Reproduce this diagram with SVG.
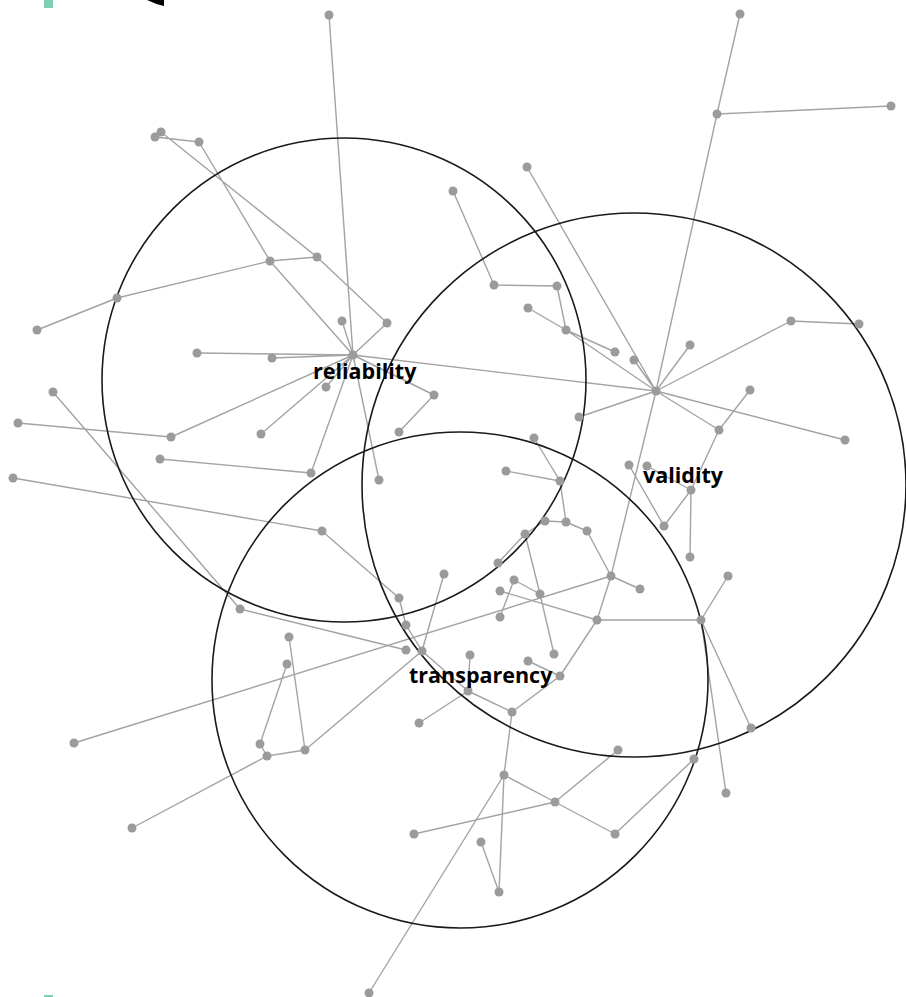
<svg xmlns="http://www.w3.org/2000/svg" width="906" height="997" viewBox="0 0 906 997">
<style>
.e{stroke:#a3a3a3;stroke-width:1.4;fill:none}
.c{stroke:#1a1a1a;stroke-width:1.6;fill:none}
.n circle{fill:#9b9b9b}
.l{font-family:"Open Sans","DejaVu Sans",sans-serif;font-weight:700;font-size:21.5px;fill:#000}
</style>
<rect width="906" height="997" fill="#fff"/>
<rect x="44" y="0" width="9" height="8" fill="#7fcfb2"/>
<path d="M147,0 L164,0 L164,6 Q155,4 147,0 Z" fill="#000"/>
<rect x="44" y="995" width="9" height="2" fill="#7fcfb2"/>
<g id="connectors">
<path class="e" d="M329,15L353,355 M161,132L317,257 M155,137L199,142 M199,142L270,261 M270,261L353,355 M270,261L317,257 M270,261L117,298 M117,298L37,330 M317,257L387,323 M387,323L353,355 M342,321L353,355 M197,353L353,355 M272,358L353,355 M326,387L353,355 M53,392L240,609 M18,423L171,437 M171,437L353,355 M261,434L353,355 M160,459L311,473 M311,473L353,355 M13,478L322,531 M379,480L353,355 M434,395L353,355 M434,395L399,432 M353,355L656,391"/>
<path class="e" d="M453,191L494,285 M494,285L557,286 M557,286L566,330 M528,308L566,330 M566,330L615,352 M566,330L656,391 M527,167L656,391 M740,14L717,114 M717,114L891,106 M717,114L656,391 M634,360L656,391 M690,345L656,391 M791,321L656,391 M791,321L859,324 M579,417L656,391 M750,390L719,430 M719,430L656,391 M845,440L656,391 M719,430L691,490 M629,465L664,526 M664,526L691,490 M647,466L691,490 M691,490L690,557 M656,391L611,576 M611,576L597,620 M611,576L640,589 M74,743L611,576 M587,531L611,576"/>
<path class="e" d="M534,438L560,481 M506,471L560,481 M560,481L566,522 M545,521L566,522 M566,522L587,531 M525,534L545,521 M498,563L525,534 M525,534L540,594 M540,594L554,654 M514,580L500,617 M514,580L540,594 M500,591L597,620 M597,620L701,620 M701,620L728,576 M701,620L751,728 M701,620L726,793 M597,620L560,676 M528,661L560,676 M560,676L512,712 M512,712L504,775 M504,775L555,802 M504,775L499,892 M481,842L499,892 M504,775L369,993 M555,802L414,834 M555,802L618,750 M555,802L615,834 M615,834L694,759"/>
<path class="e" d="M322,531L399,598 M399,598L406,625 M406,625L422,651 M444,574L422,651 M422,651L305,750 M240,609L406,650 M422,651L468,691 M468,691L512,712 M468,691L419,723 M468,691L470,655 M289,637L305,750 M287,664L260,744 M260,744L267,756 M267,756L305,750 M267,756L132,828"/>
</g>
<g id="sets">
<circle id="set-reliability" class="c" cx="344" cy="380" r="242"/>
<circle id="set-validity" class="c" cx="634" cy="485" r="272"/>
<circle id="set-transparency" class="c" cx="460" cy="680" r="248"/>
</g>
<g id="nodes" class="n">
<g id="n1"><circle cx="329" cy="15" r="4.5"/></g>
<g id="n2"><circle cx="161" cy="132" r="4.5"/></g>
<g id="n3"><circle cx="155" cy="137" r="4.5"/></g>
<g id="n4"><circle cx="199" cy="142" r="4.5"/></g>
<g id="n5"><circle cx="270" cy="261" r="4.5"/></g>
<g id="n6"><circle cx="317" cy="257" r="4.5"/></g>
<g id="n7"><circle cx="117" cy="298" r="4.5"/></g>
<g id="n8"><circle cx="37" cy="330" r="4.5"/></g>
<g id="n9"><circle cx="387" cy="323" r="4.5"/></g>
<g id="n10"><circle cx="342" cy="321" r="4.5"/></g>
<g id="hub-reliability"><circle cx="353" cy="355" r="4.5"/></g>
<g id="n11"><circle cx="197" cy="353" r="4.5"/></g>
<g id="n12"><circle cx="272" cy="358" r="4.5"/></g>
<g id="n13"><circle cx="326" cy="387" r="4.5"/></g>
<g id="n14"><circle cx="53" cy="392" r="4.5"/></g>
<g id="n15"><circle cx="18" cy="423" r="4.5"/></g>
<g id="n16"><circle cx="171" cy="437" r="4.5"/></g>
<g id="n17"><circle cx="261" cy="434" r="4.5"/></g>
<g id="n18"><circle cx="160" cy="459" r="4.5"/></g>
<g id="n19"><circle cx="311" cy="473" r="4.5"/></g>
<g id="n20"><circle cx="13" cy="478" r="4.5"/></g>
<g id="n21"><circle cx="379" cy="480" r="4.5"/></g>
<g id="n22"><circle cx="434" cy="395" r="4.5"/></g>
<g id="n23"><circle cx="399" cy="432" r="4.5"/></g>
<g id="n24"><circle cx="453" cy="191" r="4.5"/></g>
<g id="n25"><circle cx="527" cy="167" r="4.5"/></g>
<g id="n26"><circle cx="740" cy="14" r="4.5"/></g>
<g id="n27"><circle cx="717" cy="114" r="4.5"/></g>
<g id="n28"><circle cx="891" cy="106" r="4.5"/></g>
<g id="n29"><circle cx="494" cy="285" r="4.5"/></g>
<g id="n30"><circle cx="557" cy="286" r="4.5"/></g>
<g id="n31"><circle cx="528" cy="308" r="4.5"/></g>
<g id="n32"><circle cx="566" cy="330" r="4.5"/></g>
<g id="n33"><circle cx="615" cy="352" r="4.5"/></g>
<g id="n34"><circle cx="634" cy="360" r="4.5"/></g>
<g id="n35"><circle cx="690" cy="345" r="4.5"/></g>
<g id="n36"><circle cx="791" cy="321" r="4.5"/></g>
<g id="n37"><circle cx="859" cy="324" r="4.5"/></g>
<g id="hub-validity"><circle cx="656" cy="391" r="4.5"/></g>
<g id="n38"><circle cx="579" cy="417" r="4.5"/></g>
<g id="n39"><circle cx="750" cy="390" r="4.5"/></g>
<g id="n40"><circle cx="719" cy="430" r="4.5"/></g>
<g id="n41"><circle cx="845" cy="440" r="4.5"/></g>
<g id="n42"><circle cx="534" cy="438" r="4.5"/></g>
<g id="n43"><circle cx="506" cy="471" r="4.5"/></g>
<g id="n44"><circle cx="560" cy="481" r="4.5"/></g>
<g id="n45"><circle cx="629" cy="465" r="4.5"/></g>
<g id="n46"><circle cx="647" cy="466" r="4.5"/></g>
<g id="n47"><circle cx="691" cy="490" r="4.5"/></g>
<g id="n48"><circle cx="664" cy="526" r="4.5"/></g>
<g id="n49"><circle cx="690" cy="557" r="4.5"/></g>
<g id="n50"><circle cx="728" cy="576" r="4.5"/></g>
<g id="n51"><circle cx="701" cy="620" r="4.5"/></g>
<g id="n52"><circle cx="751" cy="728" r="4.5"/></g>
<g id="n53"><circle cx="726" cy="793" r="4.5"/></g>
<g id="n54"><circle cx="322" cy="531" r="4.5"/></g>
<g id="n55"><circle cx="399" cy="598" r="4.5"/></g>
<g id="n56"><circle cx="406" cy="625" r="4.5"/></g>
<g id="n57"><circle cx="406" cy="650" r="4.5"/></g>
<g id="n58"><circle cx="422" cy="651" r="4.5"/></g>
<g id="n59"><circle cx="444" cy="574" r="4.5"/></g>
<g id="n60"><circle cx="240" cy="609" r="4.5"/></g>
<g id="n61"><circle cx="289" cy="637" r="4.5"/></g>
<g id="n62"><circle cx="287" cy="664" r="4.5"/></g>
<g id="n63"><circle cx="260" cy="744" r="4.5"/></g>
<g id="n64"><circle cx="267" cy="756" r="4.5"/></g>
<g id="n65"><circle cx="305" cy="750" r="4.5"/></g>
<g id="n66"><circle cx="74" cy="743" r="4.5"/></g>
<g id="n67"><circle cx="132" cy="828" r="4.5"/></g>
<g id="n68"><circle cx="611" cy="576" r="4.5"/></g>
<g id="n69"><circle cx="640" cy="589" r="4.5"/></g>
<g id="n70"><circle cx="597" cy="620" r="4.5"/></g>
<g id="n71"><circle cx="500" cy="591" r="4.5"/></g>
<g id="n72"><circle cx="500" cy="617" r="4.5"/></g>
<g id="n73"><circle cx="514" cy="580" r="4.5"/></g>
<g id="n74"><circle cx="540" cy="594" r="4.5"/></g>
<g id="n75"><circle cx="498" cy="563" r="4.5"/></g>
<g id="n76"><circle cx="525" cy="534" r="4.5"/></g>
<g id="n77"><circle cx="545" cy="521" r="4.5"/></g>
<g id="n78"><circle cx="566" cy="522" r="4.5"/></g>
<g id="n79"><circle cx="587" cy="531" r="4.5"/></g>
<g id="n80"><circle cx="554" cy="654" r="4.5"/></g>
<g id="n81"><circle cx="470" cy="655" r="4.5"/></g>
<g id="n82"><circle cx="468" cy="691" r="4.5"/></g>
<g id="n83"><circle cx="419" cy="723" r="4.5"/></g>
<g id="n84"><circle cx="512" cy="712" r="4.5"/></g>
<g id="n85"><circle cx="528" cy="661" r="4.5"/></g>
<g id="n86"><circle cx="560" cy="676" r="4.5"/></g>
<g id="n87"><circle cx="504" cy="775" r="4.5"/></g>
<g id="n88"><circle cx="555" cy="802" r="4.5"/></g>
<g id="n89"><circle cx="414" cy="834" r="4.5"/></g>
<g id="n90"><circle cx="481" cy="842" r="4.5"/></g>
<g id="n91"><circle cx="499" cy="892" r="4.5"/></g>
<g id="n92"><circle cx="369" cy="993" r="4.5"/></g>
<g id="n93"><circle cx="618" cy="750" r="4.5"/></g>
<g id="n94"><circle cx="694" cy="759" r="4.5"/></g>
<g id="n95"><circle cx="615" cy="834" r="4.5"/></g>
</g>
<g id="labels">
<text class="l" x="313" y="379">reliability</text>
<text class="l" x="643" y="483">validity</text>
<text class="l" x="409" y="683">transparency</text>
</g>
</svg>
